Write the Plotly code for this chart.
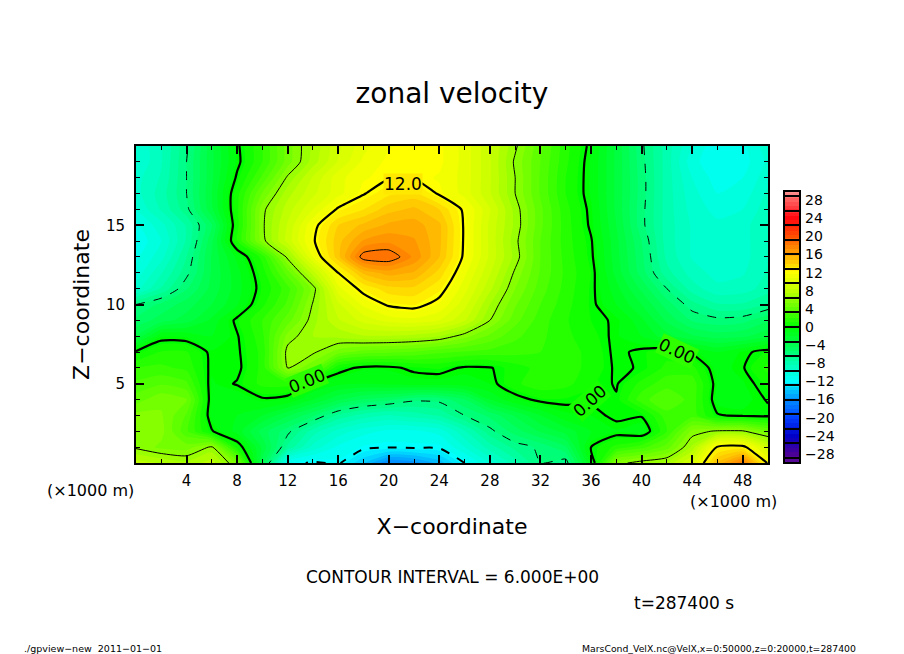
import plotly.graph_objects as go

# x in km (every 2), z in km (every 1)
x_km = [0, 2, 4, 6, 8, 10, 12, 14, 16, 18, 20, 22, 24, 26, 28, 30, 32, 34, 36, 38, 40, 42, 44, 46, 48, 50]
z_km = [0, 1, 2, 3, 4, 5, 6, 7, 8, 9, 10, 11, 12, 13, 14, 15, 16, 17, 18, 19, 20]

# zonal velocity, one row per height
u00 = [8, 7.5, 7, 8, 5, -4, -11.5, -12.2, -11.8, -14, -16.5, -16, -14.5, -12, -10, -8, -6, -6.5, -1, 5.6, 6.5, 7, 9.5, 15, 18, 11.8]
u01 = [5.8, 5, 4.8, 6.2, 0.8, -3, -7, -9.5, -11, -11.7, -11.9, -11.8, -11.8, -10, -8, -6.5, -5.8, -4.5, 0, 1.5, 2.5, 4, 7, 12.2, 12.5, 9]
u02 = [5.5, 5.5, 3, 0.1, -1.5, -4, -5.7, -8, -9.5, -10.5, -11, -11, -10.5, -8.5, -6.3, -4.8, -3.5, -2.5, -1.2, -0.5, -1, 2, 5.5, 6.2, 6.2, 4.5]
u03 = [5.5, 5.3, 3.5, -0.7, -1.2, -2, -3.5, -5, -7, -8, -8.5, -8, -7.5, -6, -5, -3.5, -2, -0.6, -0.4, 0.3, 0.1, 2.5, 2.5, 0.1, -0.2, -0.3]
u04 = [4, 5, 4.5, -0.6, -1, -0.2, -0.5, -2, -3.5, -4.5, -5, -5.8, -5.7, -4.5, -2, -0.5, 0.3, 0.3, 0.2, 0.1, 2.5, 3.5, 2.5, -0.7, -0.7, 0.1]
u05 = [3, 3.5, 3, -0.5, 0.1, 1.5, 1.5, -0.4, -1, -1.2, -1, -0.8, -0.8, -0.7, -0.4, 1, 1.8, 1.5, 0.5, -0.1, 1.5, 2.5, 2.5, -0.5, -0.5, 0.6]
u06 = [2, 2.2, 1.8, -0.3, -0.3, 1.5, 6.05, 4.5, 0.5, -0.3, -0.3, 0.3, 0.5, -0.2, -0.1, 0.8, 1.5, 1.5, 1, -0.2, 0.1, 1.5, 1.5, -0.8, -0.1, 1.5]
u07 = [0.2, 1.3, 1.3, -0.3, -0.2, 1.5, 6.4, 6.2, 4.8, 4, 3.8, 3.5, 3, 2.7, 2.5, 2.3, 2, 1.5, 1, -0.3, 0.3, 0.8, -0.2, -1.2, -0.3, 0.5]
u08 = [-3.5, -0.5, -0.6, -1.2, -0.1, 1.8, 5.5, 6.8, 7, 7.5, 7.5, 7.3, 6.8, 5.5, 4.2, 3, 2.2, 1.4, 0.7, -0.3, -1.2, -2.5, -3.5, -4, -3.8, -3]
u09 = [-5, -4, -3.2, -1.8, 0.3, 2, 4, 6.5, 8.3, 9.5, 10.3, 10.5, 10, 8.5, 6, 3.9, 2.4, 1.3, 0.4, -0.2, -1.8, -3.8, -5.3, -5.7, -5.5, -4.5]
u10 = [-6, -5, -4, -2.8, -1.3, 1, 3, 6.1, 9, 11, 12.2, 12.5, 11.5, 9.5, 6.8, 4.5, 2.8, 1.5, 0.3, -1.2, -2.8, -4.8, -6.5, -7.5, -7.5, -6.7]
u11 = [-9.5, -7.5, -5.3, -3.3, -1.6, 0.5, 2.5, 5.5, 10.5, 12.5, 13.7, 13.8, 12.6, 10.3, 7.8, 5.2, 3.2, 1.7, 0.3, -1.7, -3.8, -6, -8, -9, -8.8, -8]
u12 = [-10.5, -8.5, -6.3, -3.5, -1.5, 0.8, 4, 8, 12, 15, 16, 15.5, 13.7, 11, 8.5, 5.8, 3.5, 1.8, 0.4, -2.3, -4.8, -7.3, -8.8, -9.5, -9.3, -8.3]
u13 = [-11, -9.5, -6.8, -3.5, -1, 1.5, 6.3, 10.8, 14.5, 18.6, 18.8, 17, 14.8, 11.7, 9, 6.5, 3.6, 1.7, 0.2, -2.5, -5, -7.8, -9.3, -9.8, -9.5, -8.5]
u14 = [-11.5, -10, -7.5, -3.8, 1.2, 5.6, 8.7, 11.8, 14.5, 16.5, 17, 16.5, 15, 11.8, 9, 6.3, 3.6, 1.6, 0.1, -2.6, -5.2, -8, -9.3, -9.8, -9.5, -8.5]
u15 = [-11, -9.5, -7.5, -4.5, 0.9, 5.8, 8.5, 11.5, 14, 15, 15.8, 16, 15, 11.8, 9, 6.6, 3.8, 1.6, -0.2, -2.8, -5.7, -8, -9.3, -9.8, -9.5, -8.5]
u16 = [-10, -8.3, -6.3, -3, 1, 5.7, 8, 10, 12.2, 13.2, 14.5, 15, 14, 11.7, 9.3, 6.5, 3.8, 1.5, -0.3, -3, -5.7, -8, -9.5, -10.3, -10, -8.7]
u17 = [-9.5, -8, -6, -2.8, 0.9, 4.5, 7.3, 9, 10.5, 11.9, 13, 13.5, 11.8, 10.5, 8.5, 6, 3.5, 1.2, -0.5, -3, -5.6, -8, -9.7, -10.8, -10.5, -9]
u18 = [-9.5, -8.3, -6, -3, 0.2, 3, 6.2, 8.5, 10.5, 11.5, 11.9, 11.9, 11.5, 10.5, 8.5, 6, 3.5, 1.2, -0.5, -3, -5.6, -8, -10, -11.2, -10.8, -9.5]
u19 = [-10, -8.5, -6, -3, -0.3, 2, 4.8, 7.2, 9.3, 11, 11.8, 12, 11.8, 10.5, 8.5, 5.8, 3.6, 1.4, -0.5, -3, -5.7, -8, -10.5, -11.5, -11.2, -9.8]
u20 = [-10, -8.5, -6.2, -3, -0.2, 2, 4.8, 7, 9, 10.5, 11.5, 12, 11.8, 10.5, 8.5, 6.2, 3.8, 1.5, -0.3, -3, -5.8, -8, -10, -11.5, -11, -9.5]
velocity = [u00, u01, u02, u03, u04, u05, u06, u07, u08, u09, u10, u11, u12, u13, u14, u15, u16, u17, u18, u19, u20]

x_ticks = [4, 8, 12, 16, 20, 24, 28, 32, 36, 40, 44, 48]
z_ticks = [5, 10, 15]
bar_labels = [-28, -24, -20, -16, -12, -8, -4, 0, 4, 8, 12, 16, 20, 24, 28]
bar_lines = [-28.8, -25.6, -22.4, -19.2, -16, -12.8, -9.6, -6.4, -3.2, 0, 3.2, 6.4, 9.6, 12.8, 16, 19.2, 22.4, 25.6, 28.8]

# levels of the colour scale and their colours
scale_levels = [-30, -28, -24, -20, -16, -12, -8, -4, 0, 4, 8, 12, 16, 20, 24, 28, 30]
scale_colors = ["#5a0a96", "#4b0096", "#0000c8", "#0040ff", "#0090ff", "#00ffff", "#00ffb0", "#00ff50",
                "#00ff00", "#60ff00", "#c0ff00", "#ffff00", "#ffa800", "#ff5000", "#ff0810", "#ff6060", "#ff9090"]
colorscale = [[(v + 30) / 60, c] for v, c in zip(scale_levels, scale_colors)]

FONT = "DejaVu Sans"

fig = go.Figure()

# colour bands
fig.add_trace(go.Contour(
    x=x_km, y=z_km, z=velocity, colorscale=colorscale, zmin=-30, zmax=30,
    autocontour=False, contours=dict(start=-30, end=30, size=0.8, coloring="fill", showlines=False),
    line=dict(width=0, smoothing=0.6),
    colorbar=dict(
        thicknessmode="pixels", thickness=16, lenmode="pixels", len=272,
        x=648 / 718, xanchor="left", xpad=0, y=0, yanchor="bottom", ypad=0,
        outlinecolor="black", outlinewidth=2, borderwidth=0,
        tickmode="array", tickvals=bar_lines, ticks="inside", ticklen=16, tickwidth=2, tickcolor="black",
        showticklabels=False,
    ),
    hoverinfo="skip",
))

# contour lines: (first, last, width, dash)
line_sets = [
    (0, 24, 2.2, "solid"),
    (6, 18, 1, "solid"),
    (-24, -12, 2, "dash"),
    (-18, -6, 1, "dash"),
]
for first, last, width, dash in line_sets:
    fig.add_trace(go.Contour(
        x=x_km, y=z_km, z=velocity, showscale=False, autocontour=False,
        contours=dict(start=first, end=last, size=12, coloring="none"),
        line=dict(color="black", width=width, dash=dash, smoothing=0.6),
        hoverinfo="skip",
    ))

# invisible trace so the colour bar labels get their own axis
fig.add_trace(go.Scatter(x=[0] * len(bar_labels), y=bar_labels, yaxis="y2", mode="markers",
                         marker=dict(opacity=0), showlegend=False, hoverinfo="skip"))

fig.update_layout(
    width=896, height=646,
    margin=dict(l=128, r=50, t=138, b=191),
    paper_bgcolor="white", plot_bgcolor="rgba(0,0,0,0)",
    font=dict(family=FONT, color="black", size=15),
    showlegend=False,
    title=dict(text="zonal velocity", x=444 / 896, xanchor="center", y=1 - 85 / 646, yanchor="middle",
               font=dict(size=28)),
    xaxis=dict(
        domain=[0, 632 / 718], range=[0, 50], showgrid=False, zeroline=False,
        showline=True, linecolor="black", linewidth=2, mirror="ticks",
        tickmode="array", tickvals=x_ticks, ticks="inside", ticklen=8, tickwidth=2, tickcolor="black",
        minor=dict(dtick=2, tick0=0, ticks="inside", ticklen=4, tickwidth=1, tickcolor="black"),
        ticklabelstandoff=3,
        title=dict(text="X\u2212coordinate", font=dict(size=22), standoff=30),
    ),
    yaxis=dict(
        range=[0, 20], showgrid=False, zeroline=False,
        showline=True, linecolor="black", linewidth=2, mirror="ticks",
        tickmode="array", tickvals=z_ticks, ticks="inside", ticklen=8, tickwidth=2, tickcolor="black",
        minor=dict(dtick=1, tick0=0, ticks="inside", ticklen=4, tickwidth=1, tickcolor="black"),
        ticklabelstandoff=6,
        title=dict(text="Z\u2212coordinate", font=dict(size=22), standoff=10),
    ),
    yaxis2=dict(
        domain=[0, 272 / 317], range=[-30, 30], anchor="free", position=668 / 718, side="right",
        showgrid=False, zeroline=False, showline=False, ticks="",
        tickmode="array", tickvals=bar_labels, tickfont=dict(size=14),
    ),
)

# contour labels
contour_labels = [
    ("12.0", 21.1, 17.6, 0, "#ffe800"),
    ("0.00", 13.5, 5.2, -22, "#2cff00"),
    ("0.00", 35.9, 3.9, -42, "#18ff00"),
    ("0.00", 42.8, 7.05, 25, "#30ff00"),
]
for text, lx, lz, angle, back in contour_labels:
    fig.add_annotation(x=lx, y=lz, text=text, textangle=angle, showarrow=False, bgcolor=back,
                       font=dict(size=17), borderpad=0)

# free texts: text, left/centre/right in reference pixels, middle in reference pixels, size, anchor
page_texts = [
    ("(\u00d71000 m)", 90, 490, 16, "center"),
    ("(\u00d71000 m)", 733, 501, 16, "center"),
    ("CONTOUR INTERVAL = 6.000E+00", 452, 577, 17, "center"),
    ("t=287400 s", 684, 603, 17, "center"),
    ("./gpview\u2212new  2011\u221201\u221201", 22, 648, 9.5, "left"),
    ("MarsCond_VelX.nc@VelX,x=0:50000,z=0:20000,t=287400", 858, 648, 9.3, "right"),
]
for text, px, py, size, anchor in page_texts:
    fig.add_annotation(xref="paper", yref="paper", x=(px - 136) / 718, y=(463 - py) / 317, text=text,
                       showarrow=False, xanchor=anchor, yanchor="middle", font=dict(size=size))

fig.write_html("out.html")
